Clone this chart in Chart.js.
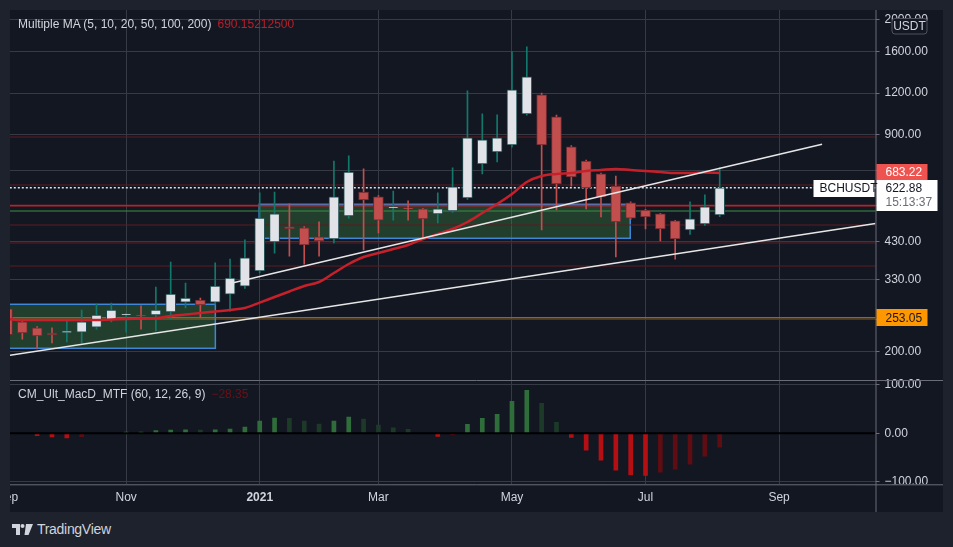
<!DOCTYPE html>
<html>
<head>
<meta charset="utf-8">
<title>BCHUSDT weekly</title>
<script src="https://cdn.jsdelivr.net/npm/chart.js@4.4.0/dist/chart.umd.min.js"></script>
<style>
  html, body { margin: 0; padding: 0; width: 953px; height: 547px; overflow: hidden; background: #1e222d; font-family: "Liberation Sans", Arial, sans-serif; }
  #panel { position: absolute; left: 10px; top: 10px; width: 933px; height: 502px; background: #131722; overflow: hidden; }
  #panel canvas { position: absolute; left: 0; top: 0; }
  .legend { position: absolute; left: 8px; font-size: 12px; color: #d1d4dc; white-space: nowrap; pointer-events: none; }
  .legend span { margin-left: 6px; }
  #footer { position: absolute; left: 12px; top: 520px; height: 18px; display: flex; align-items: center; color: #d1d4dc; font-size: 14px; letter-spacing: -0.3px; }
  #footer svg { margin-right: 4px; }
</style>
</head>
<body>
<div id="panel">
  <canvas id="chart" width="933" height="502"></canvas>
  <div class="legend" style="top:7px">Multiple MA (5, 10, 20, 50, 100, 200)<span style="color:#b5202b">690.15212500</span></div>
  <div class="legend" style="top:377px">CM_Ult_MacD_MTF (60, 12, 26, 9)<span style="color:#6b1015">&minus;28.35</span></div>
</div>
<div id="footer">
  <svg width="21" height="11" viewBox="0 0 21 11"><path d="M0 0h8v11H4V4H0z" fill="#d1d4dc"/><circle cx="10.5" cy="2" r="2" fill="#d1d4dc"/><path d="M14 0h7l-4.5 11h-4z" fill="#d1d4dc"/></svg>
  TradingView
</div>
<script>
// weekly candles, index 0 = week of 7 Sep 2020
const opens  = [269, 246, 236, 227.7, 227.7, 229, 237, 249, 258, 258, 258, 263.5, 282, 286, 282, 298, 315, 350, 428, 475, 471.5, 443, 437, 512.5, 605, 585, 541.7, 541.7, 538, 520, 531, 581, 735, 798.6, 838, 1039, 1186, 1018, 827, 750, 686, 630.5, 561, 534, 520, 495, 465, 485, 516];
const highs  = [272, 248, 238, 236, 247.5, 267, 278, 280, 261, 275, 313, 372, 322, 290, 370, 380, 434, 601, 605, 557, 476, 492, 750, 777, 710, 590, 609, 569, 540, 601, 715, 1219, 1039, 1032, 1600, 1654, 1200, 1030, 835, 755, 690, 676, 565, 536, 522, 497, 565, 593, 715];
const lows   = [222, 218, 204, 212.5, 214, 212.5, 234, 246, 229, 234, 231, 251, 271, 253, 278, 265, 310, 345, 396, 388, 367, 388, 425, 505, 405, 455.5, 498, 498, 437, 488, 525, 575, 686, 745, 825, 1030, 465, 534, 630, 538, 509, 386, 500, 468, 431, 380, 451, 480, 510];
const closes = [225, 228, 223, 224.6, 231, 246, 258, 267, 260, 256, 267, 298, 290, 276.5, 315, 333, 383, 505, 520, 468, 419, 431, 585, 695, 573, 498, 545.5, 538, 502, 538, 626.5, 880, 868, 880, 1227, 1343, 838, 640, 672, 622, 585, 492, 505, 509, 468, 437, 502, 545.5, 622.88];
const maValues = [250.9, 249.1, 249.1, 249.1, 249.1, 249.1, 249.1, 250, 250.9, 251.7, 252.6, 256.1, 258.8, 261.5, 264.3, 267, 270.7, 281, 292.2, 303.6, 315.3, 324.2, 345.1, 367.3, 385.5, 396.4, 407.5, 418.9, 436.7, 452.1, 468.1, 491.4, 523, 556.6, 596.6, 648.3, 675.8, 685.3, 690, 699.7, 704.5, 709.4, 704.5, 699.7, 694.8, 690, 690, 692.4, 690.15];
const macdHist = [0, 0, -4.8, -7.5, -9.6, -6.8, 0, 0, 2.5, 2.7, 5.5, 6.5, 7, 6.8, 7.2, 8.9, 13, 25.3, 31.5, 31, 25.3, 19.2, 25.3, 33.5, 29.4, 17.1, 11.5, 8.2, 0, -6.2, -2.7, 18.5, 30.8, 39, 65.7, 88.3, 61.6, 22.6, -8.2, -34.9, -55.4, -76, -85.5, -86.5, -80.1, -73.9, -63.7, -47.2, -28.35];

const tickWeeks = [0, 8, 17, 25, 34, 43, 52];
const tickNames = ['Sep', 'Nov', '2021', 'Mar', 'May', 'Jul', 'Sep'];
const priceTicks = [200, 250, 330, 430, 550, 700, 900, 1200, 1600, 2000];
const macdTicks = [-100, 0, 100];

// drawn levels and zones
const redLevels = [885.5, 635, 481.2, 424.8, 362.2];
const keyLevel = 550.3;
const greenLevel = 530.2;
const supportLevel = 253.05;
const lastPrice = 622.88;
const maBadge = 683.22;
const lowerTrend = [[0.17, 195.2], [58.5, 486.6]];
const upperTrend = [[15.0, 320.8], [54.9, 841.9]];
const zones = [
  { from: -1, to: 14.01, low: 204.8, high: 277.8 },
  { from: 16.96, to: 41.97, low: 438.9, high: 555.5 }
];

const X_MIN = 0.17, X_MAX = 58.5;

const up = closes.map((c, i) => c >= opens[i]);
const bodyFill = up.map(u => u ? '#e1e3e8' : '#c24e4e');
const bodyEdge = up.map(u => u ? '#1d4a4d' : '#6d2a30');
const wickCol = up.map(u => u ? '#13786c' : '#c24e4e');
const histCol = macdHist.map((v, i) => {
  const prev = i > 0 ? macdHist[i - 1] : 0;
  if (v >= 0) return v >= prev ? '#2f6e3b' : '#1d3a29';
  return v <= prev ? '#b50f14' : '#5e0d12';
});

function levelLine(v, color, width, dash) {
  return {
    type: 'line', yAxisID: 'y', order: 6,
    data: [{ x: -2, y: v }, { x: 70, y: v }],
    borderColor: color, borderWidth: width, borderDash: dash || [],
    pointRadius: 0
  };
}
function trendLine(pts) {
  return {
    type: 'line', yAxisID: 'y', order: 0,
    data: pts.map(p => ({ x: p[0], y: p[1] })),
    borderColor: '#e6e6e6', borderWidth: 1.5, pointRadius: 0
  };
}

function badge(ctx, x, yc, w, h, bg, fg, text) {
  ctx.fillStyle = bg;
  ctx.fillRect(x, Math.round(yc - h / 2), w, h);
  ctx.fillStyle = fg;
  ctx.textBaseline = 'middle';
  ctx.textAlign = 'left';
  ctx.fillText(text, x + 9, yc + 0.5);
}

const overlay = {
  id: 'overlay',
  beforeDatasetsDraw(chart) {
    const { ctx, chartArea, scales: { x, y } } = chart;
    ctx.save();
    ctx.beginPath();
    ctx.rect(chartArea.left, y.top, chartArea.right - chartArea.left, y.bottom - y.top);
    ctx.clip();
    zones.forEach(z => {
      const l = x.getPixelForValue(z.from), r = x.getPixelForValue(z.to);
      const t = y.getPixelForValue(z.high), b = y.getPixelForValue(z.low);
      ctx.fillStyle = 'rgba(76,175,80,0.27)';
      ctx.fillRect(l, t, r - l, b - t);
      ctx.strokeStyle = '#3f87d6';
      ctx.lineWidth = 1.5;
      ctx.strokeRect(l, t, r - l, b - t);
    });
    ctx.restore();
  },
  afterDraw(chart) {
    const { ctx, scales: { y, y2 } } = chart;
    const W = chart.width, H = chart.height, ax = y.left;
    ctx.save();
    // hide the part of the lowest macd label below the pane
    ctx.fillStyle = '#131722';
    ctx.fillRect(ax + 1, y2.bottom, W - ax, H - y2.bottom);
    ctx.strokeStyle = '#6a6d78';
    ctx.lineWidth = 1;
    ctx.beginPath();
    ctx.moveTo(0, y2.top + 0.5); ctx.lineTo(W, y2.top + 0.5);
    ctx.moveTo(0, y2.bottom + 0.5); ctx.lineTo(W, y2.bottom + 0.5);
    ctx.moveTo(ax + 0.5, 0); ctx.lineTo(ax + 0.5, H);
    ctx.stroke();

    ctx.font = '12px "Liberation Sans", Arial, sans-serif';
    // USDT currency box
    ctx.fillStyle = '#131722';
    ctx.strokeStyle = '#50535e';
    ctx.beginPath();
    ctx.roundRect(ax + 16.5, 8.5, 35, 15.5, 3);
    ctx.fill(); ctx.stroke();
    ctx.fillStyle = '#d1d4dc';
    ctx.textAlign = 'center'; ctx.textBaseline = 'middle';
    ctx.fillText('USDT', ax + 34, 16.5);

    badge(ctx, ax + 1, y.getPixelForValue(maBadge) - 2, 51, 16, '#ef5350', '#ffffff', maBadge.toFixed(2));
    badge(ctx, ax + 1, y.getPixelForValue(supportLevel), 51, 17, '#ff9800', '#131722', supportLevel.toFixed(2));

    const py = y.getPixelForValue(lastPrice);
    ctx.fillStyle = '#ffffff';
    ctx.fillRect(ax + 1, Math.round(py - 8), 61, 31);
    ctx.fillRect(ax - 62, Math.round(py - 8), 61, 17);
    ctx.fillStyle = '#131722';
    ctx.textAlign = 'left'; ctx.textBaseline = 'middle';
    ctx.fillText(lastPrice.toFixed(2), ax + 10, py + 1);
    ctx.fillText('BCHUSDT', ax - 56, py + 1);
    ctx.fillStyle = '#6a6d78';
    ctx.fillText('15:13:37', ax + 10, py + 15);
    ctx.restore();
  }
};

const ctx = document.getElementById('chart');
new Chart(ctx, {
  type: 'bar',
  data: {
    datasets: [
      trendLine(lowerTrend),
      trendLine(upperTrend),
      {
        type: 'line', yAxisID: 'y', order: 1,
        data: maValues.map((v, i) => ({ x: i, y: v })),
        borderColor: '#c8202a', borderWidth: 2.5, pointRadius: 0,
        cubicInterpolationMode: 'monotone'
      },
      {
        yAxisID: 'y', order: 2,
        data: opens.map((o, i) => ({ x: i, y: [o, closes[i]] })),
        backgroundColor: bodyFill, borderColor: bodyEdge,
        borderWidth: 1, borderSkipped: false, barThickness: 10
      },
      {
        yAxisID: 'y', order: 3,
        data: lows.map((l, i) => ({ x: i, y: [l, highs[i]] })),
        backgroundColor: wickCol, barThickness: 1
      },
      {
        yAxisID: 'y2', order: 4,
        data: macdHist.map((v, i) => ({ x: i, y: v })),
        backgroundColor: histCol, barThickness: 4
      },
      {
        type: 'line', yAxisID: 'y2', order: 0,
        data: [{ x: -2, y: 0 }, { x: 70, y: 0 }],
        borderColor: '#000000', borderWidth: 2, pointRadius: 0
      },
      levelLine(lastPrice, '#e0e3eb', 1.5, [2, 2]),
      levelLine(keyLevel, '#b5232b', 1.6),
      levelLine(greenLevel, '#3e8d44', 1.2),
      levelLine(supportLevel, '#93651d', 1.6),
      ...redLevels.map(v => levelLine(v, '#5f1a21', 1.2))
    ]
  },
  options: {
    responsive: false,
    animation: false,
    events: [],
    layout: { padding: 0 },
    datasets: { bar: { grouped: false } },
    plugins: { legend: { display: false }, tooltip: { enabled: false } },
    scales: {
      x: {
        type: 'linear', min: X_MIN, max: X_MAX, offset: false,
        afterBuildTicks: s => { s.ticks = tickWeeks.map(v => ({ value: v })); },
        afterFit: s => { s.height = 27.7; s.paddingLeft = 0; s.paddingRight = 0; },
        ticks: {
          autoSkip: false, maxRotation: 0, minRotation: 0, padding: 6, color: '#d1d4dc',
          callback: v => tickNames[tickWeeks.indexOf(v)],
          font: c => ({ size: 12, weight: c.tick && c.tick.value === 17 ? 'bold' : 'normal' })
        },
        grid: { color: '#363a45', drawTicks: false, offset: false },
        border: { display: false }
      },
      y: {
        type: 'logarithmic', position: 'right', stack: 'pane', stackWeight: 370,
        min: 164.4, max: 2135,
        afterBuildTicks: s => { s.ticks = priceTicks.map(v => ({ value: v })); },
        afterFit: s => { s.width = 67.5; s.paddingTop = 0; s.paddingBottom = 0; },
        ticks: { autoSkip: false, padding: 5, color: '#d1d4dc', font: { size: 12 }, callback: v => Number(v).toFixed(2) },
        grid: { color: '#363a45', tickLength: 4, tickColor: '#6a6d78' },
        border: { display: false }
      },
      y2: {
        type: 'linear', position: 'right', stack: 'pane', stackWeight: 104.3,
        min: -104.9, max: 109.7,
        afterBuildTicks: s => { s.ticks = macdTicks.map(v => ({ value: v })); },
        afterFit: s => { s.width = 67.5; s.paddingTop = 0; s.paddingBottom = 0; },
        ticks: { autoSkip: false, padding: 5, color: '#d1d4dc', font: { size: 12 },
          callback: v => (v < 0 ? '\u2212' : '') + Math.abs(v).toFixed(2) },
        grid: { color: '#363a45', tickLength: 4, tickColor: '#6a6d78' },
        border: { display: false }
      }
    }
  },
  plugins: [overlay]
});
</script>
</body>
</html>
